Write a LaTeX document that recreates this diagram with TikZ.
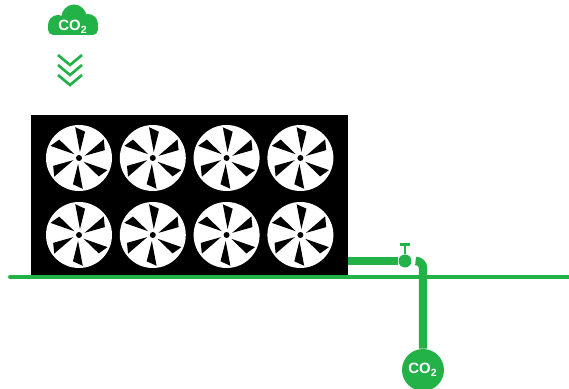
\documentclass[tikz,border=0pt]{standalone}
\usepackage{fontspec}
\setsansfont{Liberation Sans}
\usetikzlibrary{positioning}
\definecolor{gasgreen}{RGB}{34,178,72}

\begin{document}
\begin{tikzpicture}[
    x=0.02cm, y=0.02cm,
    rack/.style={fill=black, inner sep=0pt, minimum width=6.34cm, minimum height=3.2cm},
    fan/.style={circle, fill=white, inner sep=0pt, minimum size=1.32cm},
    hub/.style={circle, fill=black, inner sep=0pt, minimum size=0.12cm},
    blade/.style={fill=black},
    pipe/.style={draw=gasgreen, line width=4.8pt},
    ground/.style={draw=gasgreen, line width=2.2pt, line cap=round},
    valve/.style={circle, fill=gasgreen, inner sep=0pt, minimum size=0.26cm},
    gaslabel/.style={text=white, font=\sffamily\bfseries\fontsize{8.5}{9}\selectfont, inner sep=0pt},
    bubble/.style={circle, fill=gasgreen, inner sep=0pt, minimum size=0.84cm},
    chevron/.style={draw=gasgreen, line width=1.5pt},
  ]
  \useasboundingbox (0,0) rectangle (569,389);

  % --- CO2 cloud drifting in (top left) ---
  \fill[gasgreen] (58,364) circle[radius=10] (74,372) circle[radius=12.5] (88,365) circle[radius=10];
  \fill[gasgreen, rounded corners=3pt] (48,354) rectangle (98,368);
  \node[gaslabel] (co2in) at (73,362) {CO\textsubscript{2}};

  % --- three chevrons pointing down to the unit ---
  \foreach \k in {0,1,2}
    \draw[chevron] (58,{334-10*\k}) -- (70,{324-10*\k}) -- (82,{334-10*\k});

  % --- ground line ---
  \coordinate (gl) at (10,112);
  \coordinate (gr) at (569,112);
  \draw[ground] (gl) -- (gr);

  % --- black housing with 4x2 fans ---
  \node[rack] (rack) at (189.5,194) {};
  \foreach \col in {0,...,3}
    \foreach \row in {0,1} {
      \node[fan] (fan\col\row) at ({79+73.8*\col},{231-77*\row}) {};
      \foreach \a in {87,27,-33,-93,-153,147}
        \fill[blade, shift={(fan\col\row.center)}] (\a-6:6) -- (\a+10:31) -- (\a-10:27) -- cycle;
      \node[hub] at (fan\col\row) {};
    }

  % --- outlet pipe, valve and CO2 bubble ---
  \node[valve] (valve) at (405,128) {};
  \coordinate[above=0.2cm of valve.north] (handle);
  \node[bubble] (co2out) at (423,19) {};
  \node[gaslabel] at (co2out) {CO\textsubscript{2}};

  \draw[pipe] (rack.east |- valve) -- (valve);
  \draw[pipe, rounded corners=4pt] ([xshift=0.1cm]valve.east) -| (co2out.north);
  \draw[gasgreen, line width=1.2pt] (valve.north) -- (handle);
  \draw[gasgreen, line width=1.6pt] ([xshift=-0.1cm]handle) -- ([xshift=0.1cm]handle);
\end{tikzpicture}
\end{document}
